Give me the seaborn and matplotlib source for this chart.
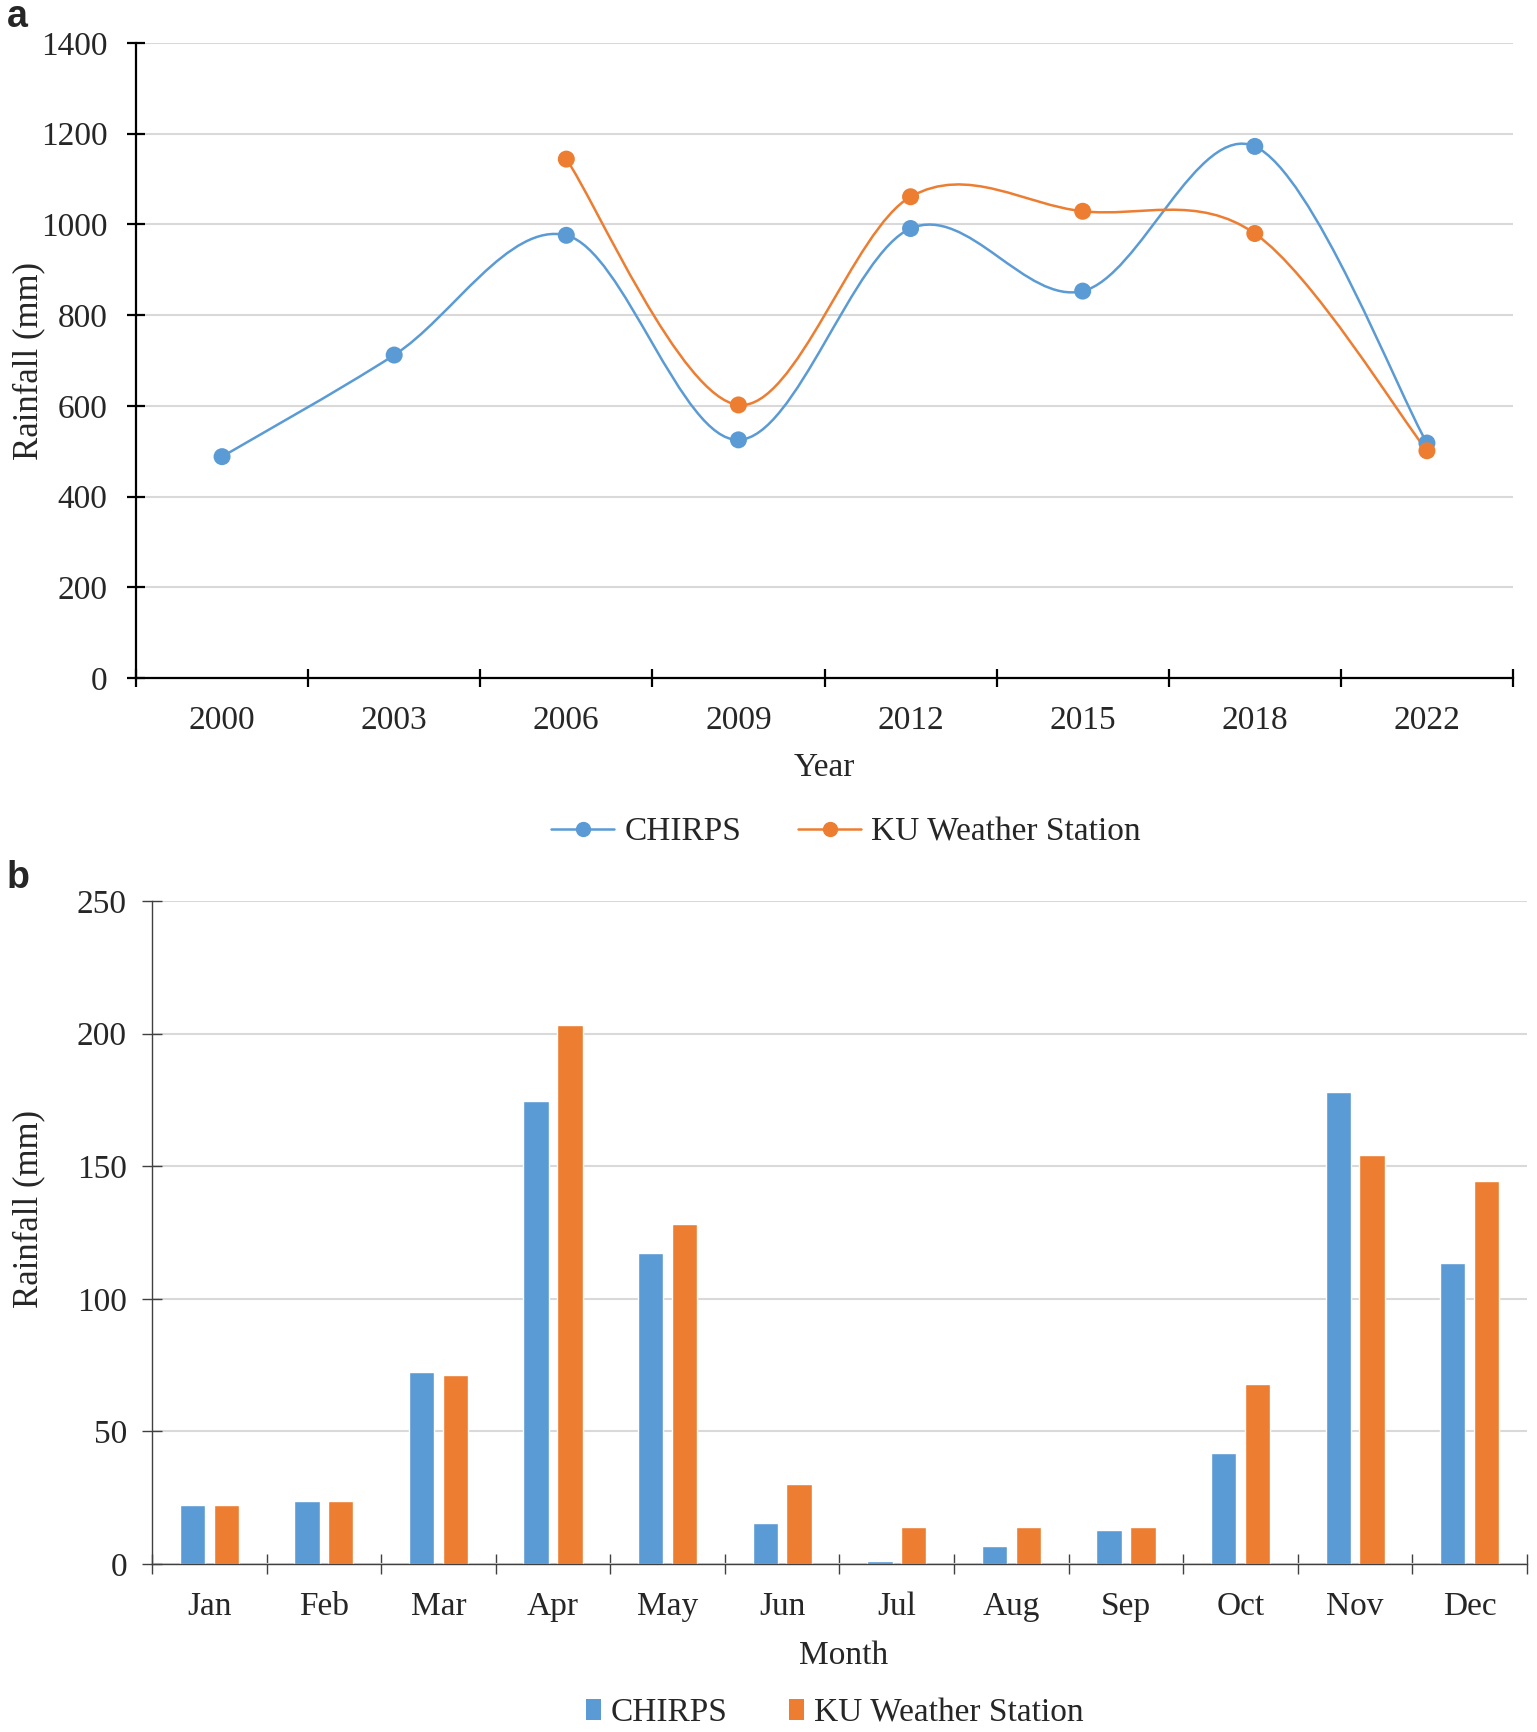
import numpy as np
import pandas as pd
import matplotlib
matplotlib.use("Agg")
import matplotlib.pyplot as plt
import seaborn as sns
from matplotlib.path import Path
from matplotlib.patches import PathPatch, Patch
from matplotlib.lines import Line2D

# annual rainfall (panel a)
years = ["2000", "2003", "2006", "2009", "2012", "2015", "2018", "2022"]
chirps_annual = [488, 712, 976, 525, 991, 853, 1172, 518]
ku_annual = [np.nan, np.nan, 1144, 602, 1061, 1029, 980, 501]

# mean monthly rainfall (panel b)
months = ["Jan", "Feb", "Mar", "Apr", "May", "Jun",
          "Jul", "Aug", "Sep", "Oct", "Nov", "Dec"]
chirps_monthly = [22.3, 23.6, 72.4, 174.5, 117.1, 15.3, 1.3, 6.6, 12.7, 41.8, 178.1, 113.5]
ku_monthly = [22.3, 23.6, 71.1, 203.3, 128.2, 30.3, 14.0, 14.0, 14.0, 67.7, 154.1, 144.3]

sources = ["CHIRPS", "KU Weather Station"]
colors = {"CHIRPS": "#5B9BD5", "KU Weather Station": "#ED7D31"}

sns.set_theme(style="white")
plt.rcParams["font.family"] = ["Liberation Serif", "DejaVu Serif"]

W, H = 1537, 1732
fig = plt.figure(figsize=(W / 100, H / 100), dpi=100)


def px_axes(left, top, right, bottom):
    return fig.add_axes([left / W, 1 - bottom / H, (right - left) / W, (bottom - top) / H])


def smooth_path(xs, ys):
    # Excel-style smoothed line (Catmull-Rom as cubic Bezier)
    n = len(xs)
    verts = [(xs[0], ys[0])]
    codes = [Path.MOVETO]
    for i in range(n - 1):
        x0, y0 = xs[max(i - 1, 0)], ys[max(i - 1, 0)]
        x1, y1 = xs[i], ys[i]
        x2, y2 = xs[i + 1], ys[i + 1]
        x3, y3 = xs[min(i + 2, n - 1)], ys[min(i + 2, n - 1)]
        verts += [(x1 + (x2 - x0) / 6, y1 + (y2 - y0) / 6),
                  (x2 - (x3 - x1) / 6, y2 - (y3 - y1) / 6),
                  (x2, y2)]
        codes += [Path.CURVE4] * 3
    return Path(verts, codes)


# ---------------- panel a ----------------
annual = pd.DataFrame({
    "pos": list(range(len(years))) * 2,
    "Rainfall": chirps_annual + ku_annual,
    "Source": ["CHIRPS"] * len(years) + ["KU Weather Station"] * len(years),
}).dropna()

ax1 = px_axes(136, 43, 1513, 678)
for src in sources:
    d = annual[annual["Source"] == src]
    ax1.add_patch(PathPatch(smooth_path(d["pos"].tolist(), d["Rainfall"].tolist()),
                            facecolor="none", edgecolor=colors[src], lw=1.8, zorder=3))
sns.scatterplot(data=annual, x="pos", y="Rainfall", hue="Source", palette=colors,
                s=150, edgecolor="none", legend=False, zorder=4, ax=ax1)

ax1.set_xlim(-0.5, len(years) - 0.5)
ax1.set_ylim(0, 1400)
ax1.set_yticks(range(0, 1401, 200))
ax1.set_xticks(np.arange(-0.5, len(years), 1))
ax1.set_xticklabels([])
ax1.set_xticks(range(len(years)), minor=True)
ax1.set_xticklabels(years, minor=True)
ax1.tick_params(axis="x", which="major", bottom=True, direction="inout", length=13,
                width=1.6, color="black")
ax1.tick_params(axis="x", which="minor", bottom=True, length=0, pad=20, labelsize=24)
ax1.tick_params(axis="y", left=True, direction="inout", length=13, width=1.6,
                color="black", pad=14, labelsize=24)
ax1.grid(axis="y", color="#d9d9d9", lw=1.5)
ax1.set_axisbelow(True)
for s in ["top", "right"]:
    ax1.spines[s].set_visible(False)
for s in ["left", "bottom"]:
    ax1.spines[s].set_color("black")
    ax1.spines[s].set_linewidth(1.6)
ax1.set_xlabel("Year", fontsize=24)
ax1.set_ylabel("Rainfall (mm)", fontsize=25)
ax1.xaxis.set_label_coords(0.5, -(768 - 678) / 635)
ax1.xaxis.label.set_va("center")
ax1.yaxis.set_label_coords((29 - 136) / 1377, 0.5)
ax1.yaxis.label.set_va("center")

line_handles = [Line2D([], [], color=colors[s], marker="o", markersize=10, lw=1.8) for s in sources]
fig.legend(line_handles, sources, loc="center", bbox_to_anchor=(846 / W, 1 - 832 / H),
           ncol=2, frameon=False, fontsize=24, handlelength=1.9, handletextpad=0.3,
           columnspacing=1.7)

# ---------------- panel b ----------------
monthly = pd.DataFrame({
    "Month": months * 2,
    "Rainfall": chirps_monthly + ku_monthly,
    "Source": ["CHIRPS"] * len(months) + ["KU Weather Station"] * len(months),
})

ax2 = px_axes(152, 901, 1527, 1564)
sns.barplot(data=monthly, x="Month", y="Rainfall", hue="Source", palette=colors,
            width=0.59, gap=0.25, saturation=1, legend=False, ax=ax2)

ax2.set_xlim(-0.5, len(months) - 0.5)
ax2.set_ylim(0, 250)
ax2.set_yticks(range(0, 251, 50))
ax2.set_xticks(np.arange(-0.5, len(months), 1))
ax2.set_xticklabels([])
ax2.set_xticks(range(len(months)), minor=True)
ax2.set_xticklabels(months, minor=True)
ax2.tick_params(axis="x", which="major", bottom=True, direction="inout", length=14,
                width=1.0, color="#404040")
ax2.tick_params(axis="x", which="minor", bottom=True, length=0, pad=20, labelsize=24)
ax2.tick_params(axis="y", left=True, direction="inout", length=14, width=1.0,
                color="#404040", pad=11, labelsize=24)
ax2.grid(axis="y", color="#d9d9d9", lw=1.5)
ax2.set_axisbelow(True)
for s in ["top", "right"]:
    ax2.spines[s].set_visible(False)
for s in ["left", "bottom"]:
    ax2.spines[s].set_color("#404040")
    ax2.spines[s].set_linewidth(1.0)
ax2.set_xlabel("Month", fontsize=24)
ax2.set_ylabel("Rainfall (mm)", fontsize=25)
ax2.xaxis.set_label_coords(0.503, -(1656 - 1564) / 663)
ax2.xaxis.label.set_va("center")
ax2.yaxis.set_label_coords((29 - 152) / 1375, 0.535)
ax2.yaxis.label.set_va("center")

bar_handles = [Patch(facecolor=colors[s], edgecolor="none") for s in sources]
fig.legend(bar_handles, sources, loc="center", bbox_to_anchor=(835 / W, 1 - 1713 / H),
           ncol=2, frameon=False, fontsize=24, handlelength=0.45, handleheight=0.6,
           handletextpad=0.3, columnspacing=1.85)

# panel letters
fig.text(7 / W, 1 - 17 / H, "a", fontsize=27, fontweight="bold",
         family="Liberation Sans", va="center", ha="left")
fig.text(7 / W, 1 - 878 / H, "b", fontsize=27, fontweight="bold",
         family="Liberation Sans", va="center", ha="left")

fig.savefig("out.png", dpi=100, facecolor="white")
